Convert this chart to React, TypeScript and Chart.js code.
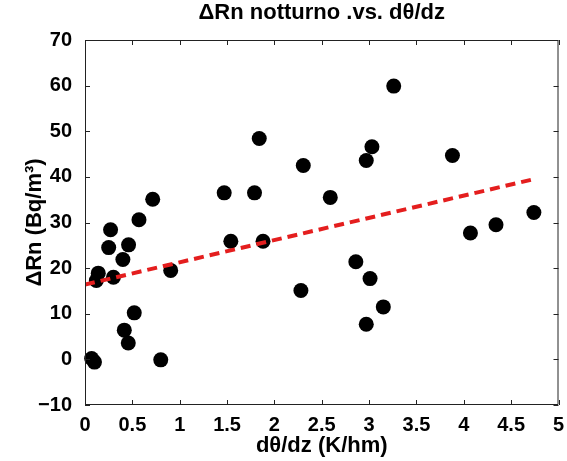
import { useEffect, useRef } from "react";
import { Chart, registerables } from "chart.js";

Chart.register(...registerables);

const xValues = [
  0.07, 0.1, 0.14, 0.12, 0.27, 0.25, 0.3, 0.46, 0.4, 0.57, 0.715, 0.905,
  0.52, 0.415, 0.457, 0.8, 1.47, 1.54, 1.79, 1.84, 1.88, 2.305, 2.28, 2.59,
  3.26, 3.03, 2.97, 2.86, 3.01, 3.15, 2.97, 3.88, 4.07, 4.34, 4.74,
];
const yValues = [
  0.2, -0.6, 18.9, 17.3, 28.4, 24.5, 18.0, 25.1, 21.9, 30.6, 35.1, 19.5,
  10.2, 6.4, 3.6, -0.1, 36.5, 25.9, 36.5, 48.4, 25.9, 42.5, 15.1, 35.5,
  59.9, 46.6, 43.6, 21.4, 17.7, 11.5, 7.7, 44.7, 27.7, 29.5, 32.2,
];
const fitX = [0, 4.74];
const fitY = [16.4, 39.5];
const xTicks = [0, 0.5, 1, 1.5, 2, 2.5, 3, 3.5, 4, 4.5, 5];
const yTicks = [-10, 0, 10, 20, 30, 40, 50, 60, 70];

const FONT = "'Liberation Sans', Arial, sans-serif";

const boxPlugin = {
  id: "boxTicks",
  afterDraw(chart: any) {
    const { ctx, chartArea } = chart;
    const xs = chart.scales.x;
    const ys = chart.scales.y;
    const { left, right, top, bottom } = chartArea;
    const tl = 5;
    ctx.save();
    ctx.strokeStyle = "#222";
    ctx.lineWidth = 1;
    ctx.beginPath();
    ctx.rect(left + 0.5, top + 0.5, right - left - 1, bottom - top - 1);
    for (const v of xTicks) {
      const px = Math.round(xs.getPixelForValue(v)) + 0.5;
      ctx.moveTo(px, bottom);
      ctx.lineTo(px, bottom - tl);
      ctx.moveTo(px, top);
      ctx.lineTo(px, top + tl);
    }
    for (const v of yTicks) {
      const py = Math.round(ys.getPixelForValue(v)) + 0.5;
      ctx.moveTo(left, py);
      ctx.lineTo(left + tl, py);
      ctx.moveTo(right, py);
      ctx.lineTo(right - tl, py);
    }
    ctx.stroke();
    ctx.restore();
  },
};

export default function App() {
  const ref = useRef<HTMLCanvasElement | null>(null);
  useEffect(() => {
    if (!ref.current) return;
    const chart = new Chart(ref.current, {
      type: "scatter",
      data: {
        datasets: [
          {
            type: "line",
            label: "fit",
            data: fitX.map((x, i) => ({ x, y: fitY[i] })),
            borderColor: "#e41e1e",
            borderWidth: 4,
            borderDash: [10, 6],
            pointRadius: 0,
            fill: false,
            order: 0,
          } as any,
          {
            label: "data",
            data: xValues.map((x, i) => ({ x, y: yValues[i] })),
            backgroundColor: "#000",
            borderWidth: 0,
            pointRadius: 7.5,
            pointHoverRadius: 7.5,
            clip: false,
            order: 1,
          } as any,
        ],
      },
      options: {
        animation: false,
        responsive: true,
        maintainAspectRatio: false,
        layout: { padding: { left: 0, right: 8.5, top: 0, bottom: 0 } },
        plugins: {
          legend: { display: false },
          tooltip: { enabled: false },
          title: {
            display: true,
            text: "ΔRn notturno .vs. dθ/dz",
            fullSize: false,
            color: "#000",
            font: { family: FONT, size: 22, weight: "bold" },
            padding: { top: 0, bottom: 13.6 },
          },
        },
        scales: {
          x: {
            type: "linear",
            min: 0,
            max: 5,
            grid: { display: false },
            border: { display: false },
            afterFit: (s: any) => {
              s.height = 56;
            },
            afterBuildTicks: (s: any) => {
              s.ticks = xTicks.map((v) => ({ value: v }));
            },
            ticks: {
              color: "#000",
              padding: 0,
              maxRotation: 0,
              autoSkip: false,
              font: { family: FONT, size: 20, weight: "bold" },
              callback: (v: any) => String(v),
            },
            title: {
              display: true,
              text: "dθ/dz (K/hm)",
              color: "#000",
              font: { family: FONT, size: 22, weight: "bold" },
              padding: { top: 0, bottom: 2 },
            },
          },
          y: {
            type: "linear",
            min: -10,
            max: 70,
            grid: { display: false },
            border: { display: false },
            afterFit: (s: any) => {
              s.width = 85;
            },
            afterBuildTicks: (s: any) => {
              s.ticks = yTicks.map((v) => ({ value: v }));
            },
            ticks: {
              color: "#000",
              padding: 5,
              autoSkip: false,
              font: { family: FONT, size: 20, weight: "bold" },
              callback: (v: any) => String(v).replace("-", "\u2212"),
            },
            title: {
              display: true,
              text: "ΔRn (Bq/m³)",
              color: "#000",
              font: { family: FONT, size: 22, weight: "bold" },
              padding: { top: 22, bottom: 0 },
            },
          },
        },
      },
      plugins: [boxPlugin],
    });
    return () => chart.destroy();
  }, []);
  return (
    <div style={{ position: "fixed", left: 0, top: 0, width: 567, height: 461, background: "#fff" }}>
      <canvas ref={ref} />
    </div>
  );
}
